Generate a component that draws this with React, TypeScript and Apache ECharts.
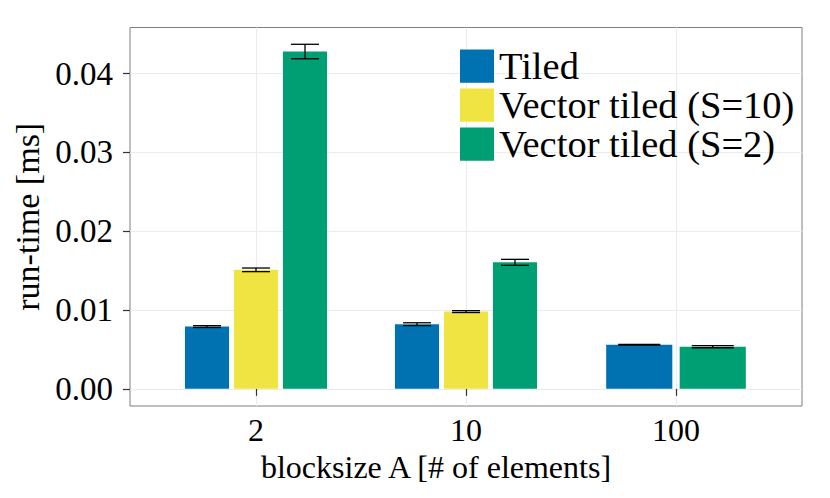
import React, { useEffect, useRef } from "react";
import * as echarts from "echarts";

// Categories (x-axis tick labels) and their positions on the discrete scale
const categories = ["2", "10", "100"];
const categoryPos = [1, 2, 3];

const seriesNames = ["Tiled", "Vector tiled (S=10)", "Vector tiled (S=2)"];
const seriesColors = ["#0072B2", "#F0E442", "#009E73"];

// Values per series (null = absent in that category)
const tiledValues = [0.0079, 0.0082, 0.0056];
const tiledErrors = [0.00012, 0.00018, 0.00005];
const vec10Values = [0.0151, 0.0098, null];
const vec10Errors = [0.00023, 0.00012, null];
const vec2Values = [0.0428, 0.01605, 0.00535];
const vec2Errors = [0.00092, 0.00038, 0.00014];

// Y-axis tick labels
const yTicks = [0, 0.01, 0.02, 0.03, 0.04];
const yMinor = [0.005, 0.015, 0.025, 0.035, 0.045];

const FONT = "'Liberation Serif', 'Times New Roman', serif";

const allValues = [tiledValues, vec10Values, vec2Values];
const allErrors = [tiledErrors, vec10Errors, vec2Errors];

function buildData(si: number) {
  const out: number[][] = [];
  for (let c = 0; c < categories.length; c++) {
    const v = allValues[si][c];
    if (v === null || v === undefined) continue;
    const present = allValues
      .map((arr, idx) => (arr[c] === null || arr[c] === undefined ? -1 : idx))
      .filter((i) => i >= 0);
    const k = present.indexOf(si);
    out.push([categoryPos[c], v as number, allErrors[si][c] as number, k, present.length]);
  }
  return out;
}

function renderItem(params: any, api: any) {
  const x = api.value(0);
  const v = api.value(1);
  const e = api.value(2);
  const k = api.value(3);
  const n = api.value(4);
  const unit = api.size([1, 0])[0];
  const slot = (0.7 / n) * unit;
  const bw = (0.63 / n) * unit;
  const ew = (0.4 / n) * unit;
  const top = api.coord([x, v]);
  const base = api.coord([x, 0]);
  const cx = top[0] + (k - (n - 1) / 2) * slot;
  const eTop = api.coord([x, v + e])[1];
  const eBot = api.coord([x, v - e])[1];
  const lineStyle = { stroke: "#000", lineWidth: 1.3 };
  return {
    type: "group",
    children: [
      {
        type: "rect",
        shape: { x: cx - bw / 2, y: top[1], width: bw, height: base[1] - top[1] },
        style: { fill: api.visual("color") },
      },
      { type: "line", shape: { x1: cx - ew / 2, y1: eTop, x2: cx + ew / 2, y2: eTop }, style: lineStyle },
      { type: "line", shape: { x1: cx - ew / 2, y1: eBot, x2: cx + ew / 2, y2: eBot }, style: lineStyle },
      { type: "line", shape: { x1: cx, y1: eTop, x2: cx, y2: eBot }, style: lineStyle },
    ],
  };
}

export default function App() {
  const ref = useRef<HTMLDivElement>(null);
  useEffect(() => {
    document.body.style.margin = "0";
    const chart = echarts.init(ref.current!, null, { renderer: "svg" });
    const gridSeries: any = {
      type: "line",
      data: [],
      silent: true,
      z: 0,
      markLine: {
        silent: true,
        z: 0,
        symbol: ["none", "none"],
        label: { show: false },
        animation: false,
        data: [
          ...yMinor.map((y) => ({ yAxis: y, lineStyle: { color: "#f7f7f7", width: 1, type: "solid" } })),
          ...yTicks.map((y) => ({ yAxis: y, lineStyle: { color: "#ebebeb", width: 1, type: "solid" } })),
          ...categoryPos.map((x) => ({ xAxis: x, lineStyle: { color: "#ebebeb", width: 1, type: "solid" } })),
        ],
      },
    };
    const barSeries = seriesNames.map((name, si) => ({
      type: "custom",
      name,
      renderItem,
      itemStyle: { color: seriesColors[si] },
      data: buildData(si),
      encode: { x: 0, y: 1 },
      z: 6,
    }));
    chart.setOption({
      animation: false,
      grid: {
        left: 130,
        right: 28,
        top: 27.5,
        bottom: 92,
        show: true,
        backgroundColor: "#ffffff",
        borderColor: "#7f7f7f",
        borderWidth: 1,
      },
      legend: {
        data: seriesNames,
        orient: "vertical",
        left: 460,
        top: 46.7,
        padding: 0,
        z: 10,
        icon: "rect",
        itemWidth: 34,
        itemHeight: 33.3,
        itemGap: 0,
        selectedMode: false,
        textStyle: { fontFamily: FONT, fontSize: 38.5, color: "#000", lineHeight: 33.3 },
      },
      xAxis: {
        type: "value",
        min: 0.4,
        max: 3.6,
        name: "blocksize A [# of elements]",
        nameLocation: "middle",
        nameGap: 26,
        nameTextStyle: { fontFamily: FONT, fontSize: 32, color: "#000", padding: [0, 60, 0, 0] },
        axisLine: { show: false },
        axisTick: { show: true, customValues: categoryPos, length: 7, lineStyle: { color: "#333", width: 1.2 } },
        axisLabel: {
          customValues: categoryPos,
          formatter: (v: number) => categories[Math.round(v) - 1] ?? "",
          fontFamily: FONT,
          fontSize: 32,
          color: "#000",
          margin: 8,
        },
        splitLine: { show: false },
      },
      yAxis: {
        type: "value",
        min: -0.00218,
        max: 0.04585,
        name: "run-time [ms]",
        nameLocation: "middle",
        nameGap: 72,
        nameTextStyle: { fontFamily: FONT, fontSize: 34, color: "#000" },
        axisLine: { show: false },
        axisTick: { show: true, customValues: yTicks, length: 7, lineStyle: { color: "#333", width: 1.2 } },
        axisLabel: {
          customValues: yTicks,
          formatter: (v: number) => v.toFixed(2),
          fontFamily: FONT,
          fontSize: 33,
          color: "#000",
          margin: 17,
        },
        splitLine: { show: false },
      },
      series: [gridSeries, ...barSeries],
    });
    return () => chart.dispose();
  }, []);
  return <div ref={ref} style={{ width: 830, height: 498 }} />;
}
